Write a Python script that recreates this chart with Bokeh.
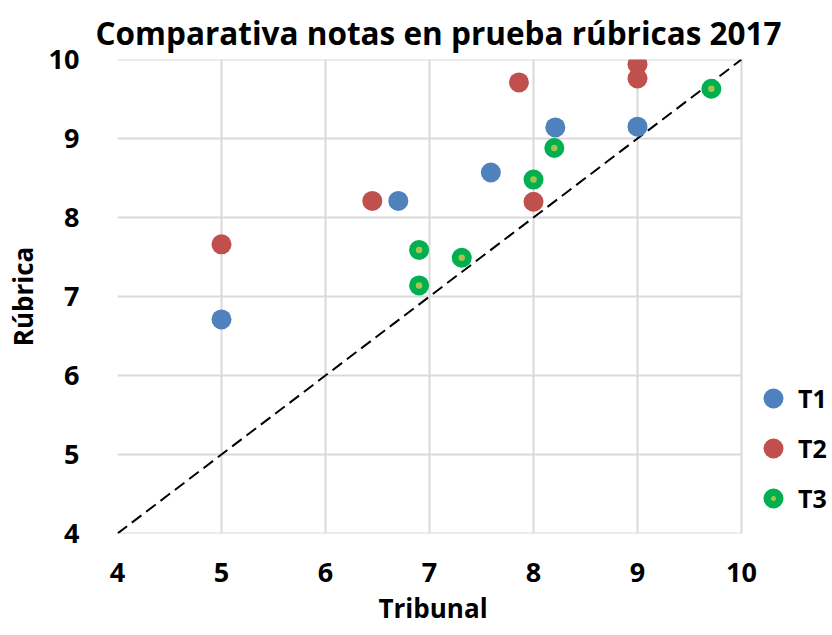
from bokeh.plotting import figure
from bokeh.models import Legend, LegendItem, Range1d, FixedTicker, Title
from bokeh.embed import file_html
from bokeh.resources import INLINE

# Data
t1_x = [5.0, 6.7, 7.59, 8.21, 9.0]
t1_y = [6.71, 8.21, 8.57, 9.14, 9.15]
t2_x = [5.0, 6.45, 7.86, 8.0, 9.0, 9.0]
t2_y = [7.66, 8.21, 9.71, 8.2, 9.94, 9.76]
t3_x = [6.9, 6.9, 7.31, 8.0, 8.2, 9.71]
t3_y = [7.59, 7.14, 7.49, 8.48, 8.88, 9.63]
diag = [4, 10]
ticks = [4, 5, 6, 7, 8, 9, 10]
series_names = ["T1", "T2", "T3"]

FONT = "Open Sans"

# frame spans the grid (4..10) plus room on the right for the legend
p = figure(width=832, height=635, output_backend="svg", toolbar_location=None,
           x_range=Range1d(ticks[0], 10.875), y_range=Range1d(ticks[0], ticks[-1]),
           min_border_left=117, min_border_right=0, min_border_top=59, min_border_bottom=102,
           title="Comparativa notas en prueba rúbricas 2017")
p.outline_line_color = None
p.title.text_font = FONT
p.title.text_font_size = "31.5px"
p.title.text_font_style = "bold"
p.title.align = "left"
p.title.offset = -22
p.title.standoff = 12
p.title.text_color = "black"

for ax in (p.xaxis, p.yaxis):
    ax.ticker = FixedTicker(ticks=ticks)
    ax.axis_line_color = None
    ax.major_tick_line_color = None
    ax.minor_tick_line_color = None
    ax.major_label_text_font = FONT
    ax.major_label_text_font_size = "27px"
    ax.major_label_text_font_style = "bold"
    ax.major_label_text_color = "black"
    ax.axis_label_text_font = FONT
    ax.axis_label_text_font_size = "26px"
    ax.axis_label_text_font_style = "bold"
    ax.axis_label_text_color = "black"

p.yaxis.axis_label = "Rúbrica"
p.xaxis.major_label_standoff = 23
p.yaxis.major_label_standoff = 32
p.yaxis.axis_label_standoff = 5

xlab = Title(text="Tribunal", align="left", offset=261, standoff=7, vertical_align="bottom",
             text_font=FONT, text_font_size="26px", text_font_style="bold", text_color="black")
p.add_layout(xlab, "below")

# grid: vertical lines from the grid, horizontal lines limited to 4..10
p.xgrid.grid_line_color = "#d9d9d9"
p.xgrid.grid_line_width = 2
p.ygrid.grid_line_color = None
n = len(ticks)
p.segment(x0=[ticks[0]] * n, y0=ticks, x1=[ticks[-1]] * n, y1=ticks,
          line_color="#d9d9d9", line_width=2)

p.line(diag, diag, line_color="black", line_width=2, line_dash="12 6")

r1 = p.scatter(t1_x, t1_y, size=20, fill_color="#4F81BD", line_color=None)
r2 = p.scatter(t2_x, t2_y, size=20, fill_color="#C0504D", line_color=None)
r3 = p.scatter(t3_x, t3_y, size=20, fill_color="#00B050", line_color=None)
r3b = p.scatter(t3_x, t3_y, size=26, marker="dot", fill_color="#A9C24D", line_color="#A9C24D")

legend = Legend(items=[LegendItem(label=series_names[0], renderers=[r1]),
                       LegendItem(label=series_names[1], renderers=[r2]),
                       LegendItem(label=series_names[2], renderers=[r3, r3b])],
                location=(631, 10), orientation="vertical")
legend.label_text_font = FONT
legend.label_text_font_size = "25px"
legend.label_text_font_style = "bold"
legend.label_text_color = "black"
legend.glyph_width = 50
legend.glyph_height = 50
legend.label_height = 50
legend.spacing = 0
legend.padding = 0
legend.margin = 0
legend.label_standoff = -10
legend.border_line_color = None
legend.background_fill_alpha = 0
p.add_layout(legend)

open("out.html", "w").write(file_html(p, INLINE))
